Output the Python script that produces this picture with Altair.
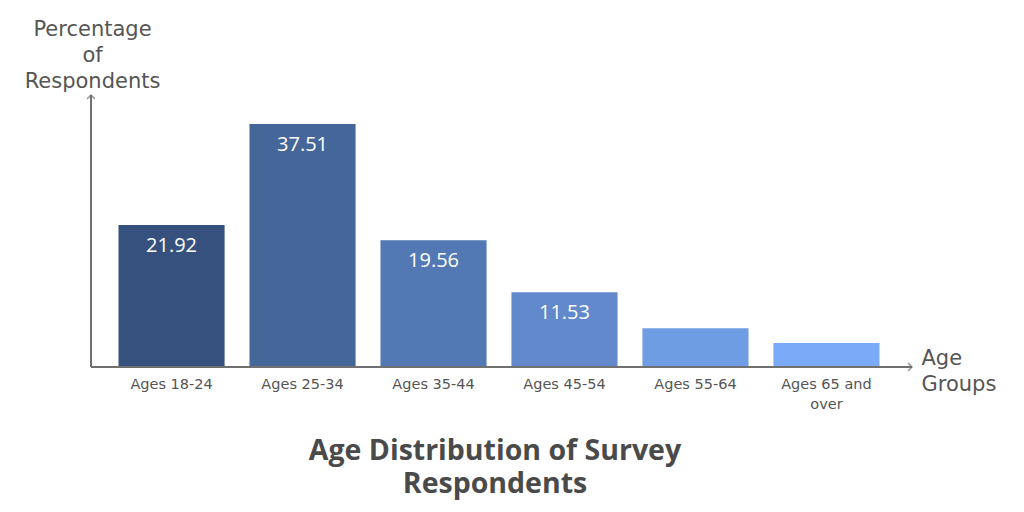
import altair as alt
import pandas as pd

categories = ["Ages 18-24", "Ages 25-34", "Ages 35-44", "Ages 45-54", "Ages 55-64", "Ages 65 and over"]
values = [21.92, 37.51, 19.56, 11.53, 6.0, 3.7]
labels = ["21.92", "37.51", "19.56", "11.53", "", ""]
colors = ["#36517D", "#456699", "#5279B4", "#6189CC", "#6E9DE3", "#7AAAF8"]

df = pd.DataFrame({"cat": categories, "val": values, "lab": labels, "col": colors})

FONT = "Open Sans"
FONT2 = "DejaVu Sans"
AX = "#707070"

x = alt.X("cat:N", sort=categories,
          scale=alt.Scale(paddingInner=0.19, paddingOuter=0.21),
          axis=alt.Axis(title=["Age", "Groups"], titleAngle=0, titleX=830, titleY=-3,
                        titleAlign="left", titleBaseline="alphabetic", titleFontSize=21,
                        titleFontWeight="normal", titleColor="#555555", titleLineHeight=26,
                        titleFont=FONT2,
                        domain=False, ticks=False, labelAngle=0, labelFontSize=14.5,
                        labelColor="#555555", labelFont=FONT2, labelPadding=10,
                        labelBaseline="top", labelLineHeight=20,
                        labelExpr="datum.value == 'Ages 65 and over' ? ['Ages 65 and', 'over'] : datum.label"))
y = alt.Y("val:Q", scale=alt.Scale(domain=[0, 42], nice=False),
          axis=alt.Axis(title=["Percentage", "of", "Respondents"], titleAngle=0, titleX=1, titleY=-60,
                        titleAlign="center", titleBaseline="alphabetic", titleFontSize=21,
                        titleFontWeight="normal", titleColor="#555555", titleLineHeight=26,
                        titleFont=FONT2,
                        domain=False, ticks=False, labels=False, grid=False))

bars = alt.Chart(df).mark_bar().encode(x=x, y=y, color=alt.Color("col:N", scale=None))

text = alt.Chart(df).mark_text(color="white", fontSize=20, font=FONT, baseline="middle", dy=21).encode(
    x=alt.X("cat:N", sort=categories), y="val:Q", text="lab:N")

xline = alt.Chart(df).mark_rule(color=AX, strokeWidth=1.5).encode(
    x=alt.value(0), x2=alt.value(821), y=alt.value(272))
yline = alt.Chart(df).mark_rule(color=AX, strokeWidth=1.5).encode(
    x=alt.value(0), y=alt.value(0), y2=alt.value(272))
xarrow = alt.Chart(pd.DataFrame({"a": [1]})).mark_point(
    shape="M -1 -1 L 0 0 L -1 1", filled=False, stroke=AX, strokeWidth=1.5, size=60).encode(
    x=alt.value(821), y=alt.value(272))
yarrow = alt.Chart(pd.DataFrame({"a": [1]})).mark_point(
    shape="M -1 1 L 0 0 L 1 1", filled=False, stroke=AX, strokeWidth=1.5, size=60).encode(
    x=alt.value(0), y=alt.value(0))

chart = alt.layer(bars, text, xline, yline, xarrow, yarrow).properties(
    width=816, height=272,
    autosize=alt.AutoSizeParams(type="none"),
    padding={"left": 83, "top": 87, "right": 109, "bottom": 137},
    title=alt.TitleParams(text=["Age Distribution of Survey", "Respondents"], orient="bottom",
                          anchor="middle", fontSize=28.5, fontWeight="bold", color="#4A4A4A",
                          font=FONT, lineHeight=33, offset=26, dx=-4),
).configure_view(stroke=None)

chart.save("out.html", embed_options={"renderer": "svg", "actions": False})
